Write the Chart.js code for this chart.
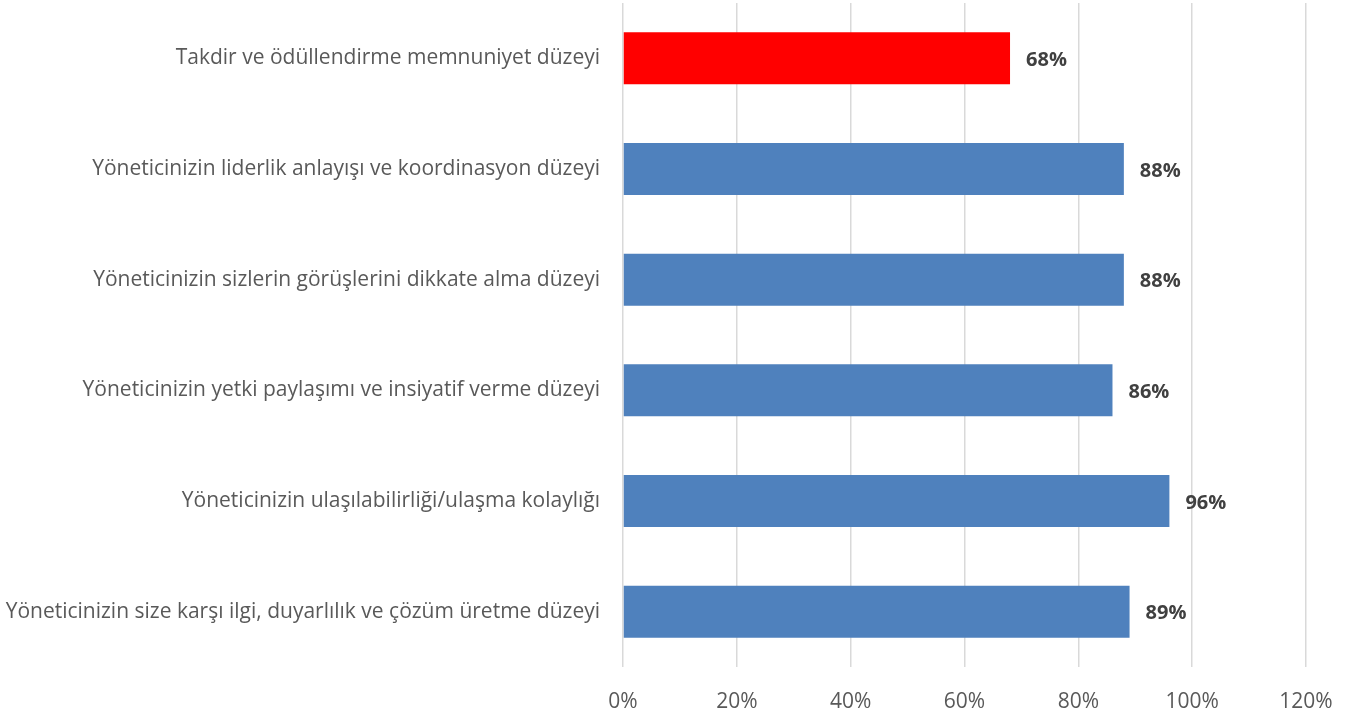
<!DOCTYPE html>
<html>
<head>
<meta charset="utf-8">
<script src="https://cdn.jsdelivr.net/npm/chart.js@4/dist/chart.umd.min.js"></script>
<style>
  html, body { margin: 0; padding: 0; background: #fff; }
  #wrap { width: 1361px; height: 720px; position: relative; }
</style>
</head>
<body>
<div id="wrap"><canvas id="chart"></canvas></div>
<script>
// Kategoriler (yukarıdan aşağıya)
const categories = [
    'Takdir ve ödüllendirme memnuniyet düzeyi',
    'Yöneticinizin liderlik anlayışı ve koordinasyon düzeyi',
    'Yöneticinizin sizlerin görüşlerini dikkate alma düzeyi',
    'Yöneticinizin yetki paylaşımı ve insiyatif verme düzeyi',
    'Yöneticinizin ulaşılabilirliği/ulaşma kolaylığı',
    'Yöneticinizin size karşı ilgi, duyarlılık ve çözüm üretme düzeyi'
];
const values = [68, 88, 88, 86, 96, 89];
const barColors = ['#ff0000', '#4f81bd', '#4f81bd', '#4f81bd', '#4f81bd', '#4f81bd'];
const xTicks = [0, 20, 40, 60, 80, 100, 120];

const fontFamily = "'Open Sans', 'Noto Sans', sans-serif";

// Bar sonundaki yüzde etiketleri
const valueLabels = {
    id: 'valueLabels',
    afterDatasetsDraw(chart) {
        const ctx = chart.ctx;
        const meta = chart.getDatasetMeta(0);
        ctx.save();
        ctx.font = 'bold 20px ' + fontFamily;
        ctx.fillStyle = '#404040';
        ctx.textAlign = 'left';
        ctx.textBaseline = 'middle';
        meta.data.forEach((bar, i) => {
            ctx.fillText(values[i] + '%', bar.x + 16, bar.y + 2);
        });
        ctx.restore();
    }
};

new Chart(document.getElementById('chart').getContext('2d'), {
    type: 'bar',
    data: {
        labels: categories,
        datasets: [{
            data: values,
            backgroundColor: barColors,
            barPercentage: 1,
            categoryPercentage: 0.47
        }]
    },
    options: {
        indexAxis: 'y',
        responsive: true,
        maintainAspectRatio: false,
        animation: false,
        layout: { padding: { top: 3, right: 55, left: 0, bottom: 0 } },
        plugins: {
            legend: { display: false },
            tooltip: { enabled: false }
        },
        scales: {
            x: {
                min: 0,
                max: 120,
                afterBuildTicks: axis => { axis.ticks = xTicks.map(v => ({ value: v })); },
                afterFit: axis => { axis.height = 53; },
                border: { display: false },
                grid: { color: '#d9d9d9', lineWidth: 1.5, drawTicks: false },
                ticks: {
                    padding: 22,
                    color: '#595959',
                    font: { family: fontFamily, size: 21 },
                    callback: v => v + '%'
                }
            },
            y: {
                afterFit: axis => {
                    axis.width = 623;
                    axis.paddingTop = 0;
                    axis.paddingBottom = 0;
                },
                border: { display: false },
                grid: { display: false, drawTicks: false },
                ticks: {
                    padding: 23,
                    color: '#595959',
                    font: { family: fontFamily, size: 21 }
                }
            }
        }
    },
    plugins: [valueLabels]
});
</script>
</body>
</html>
